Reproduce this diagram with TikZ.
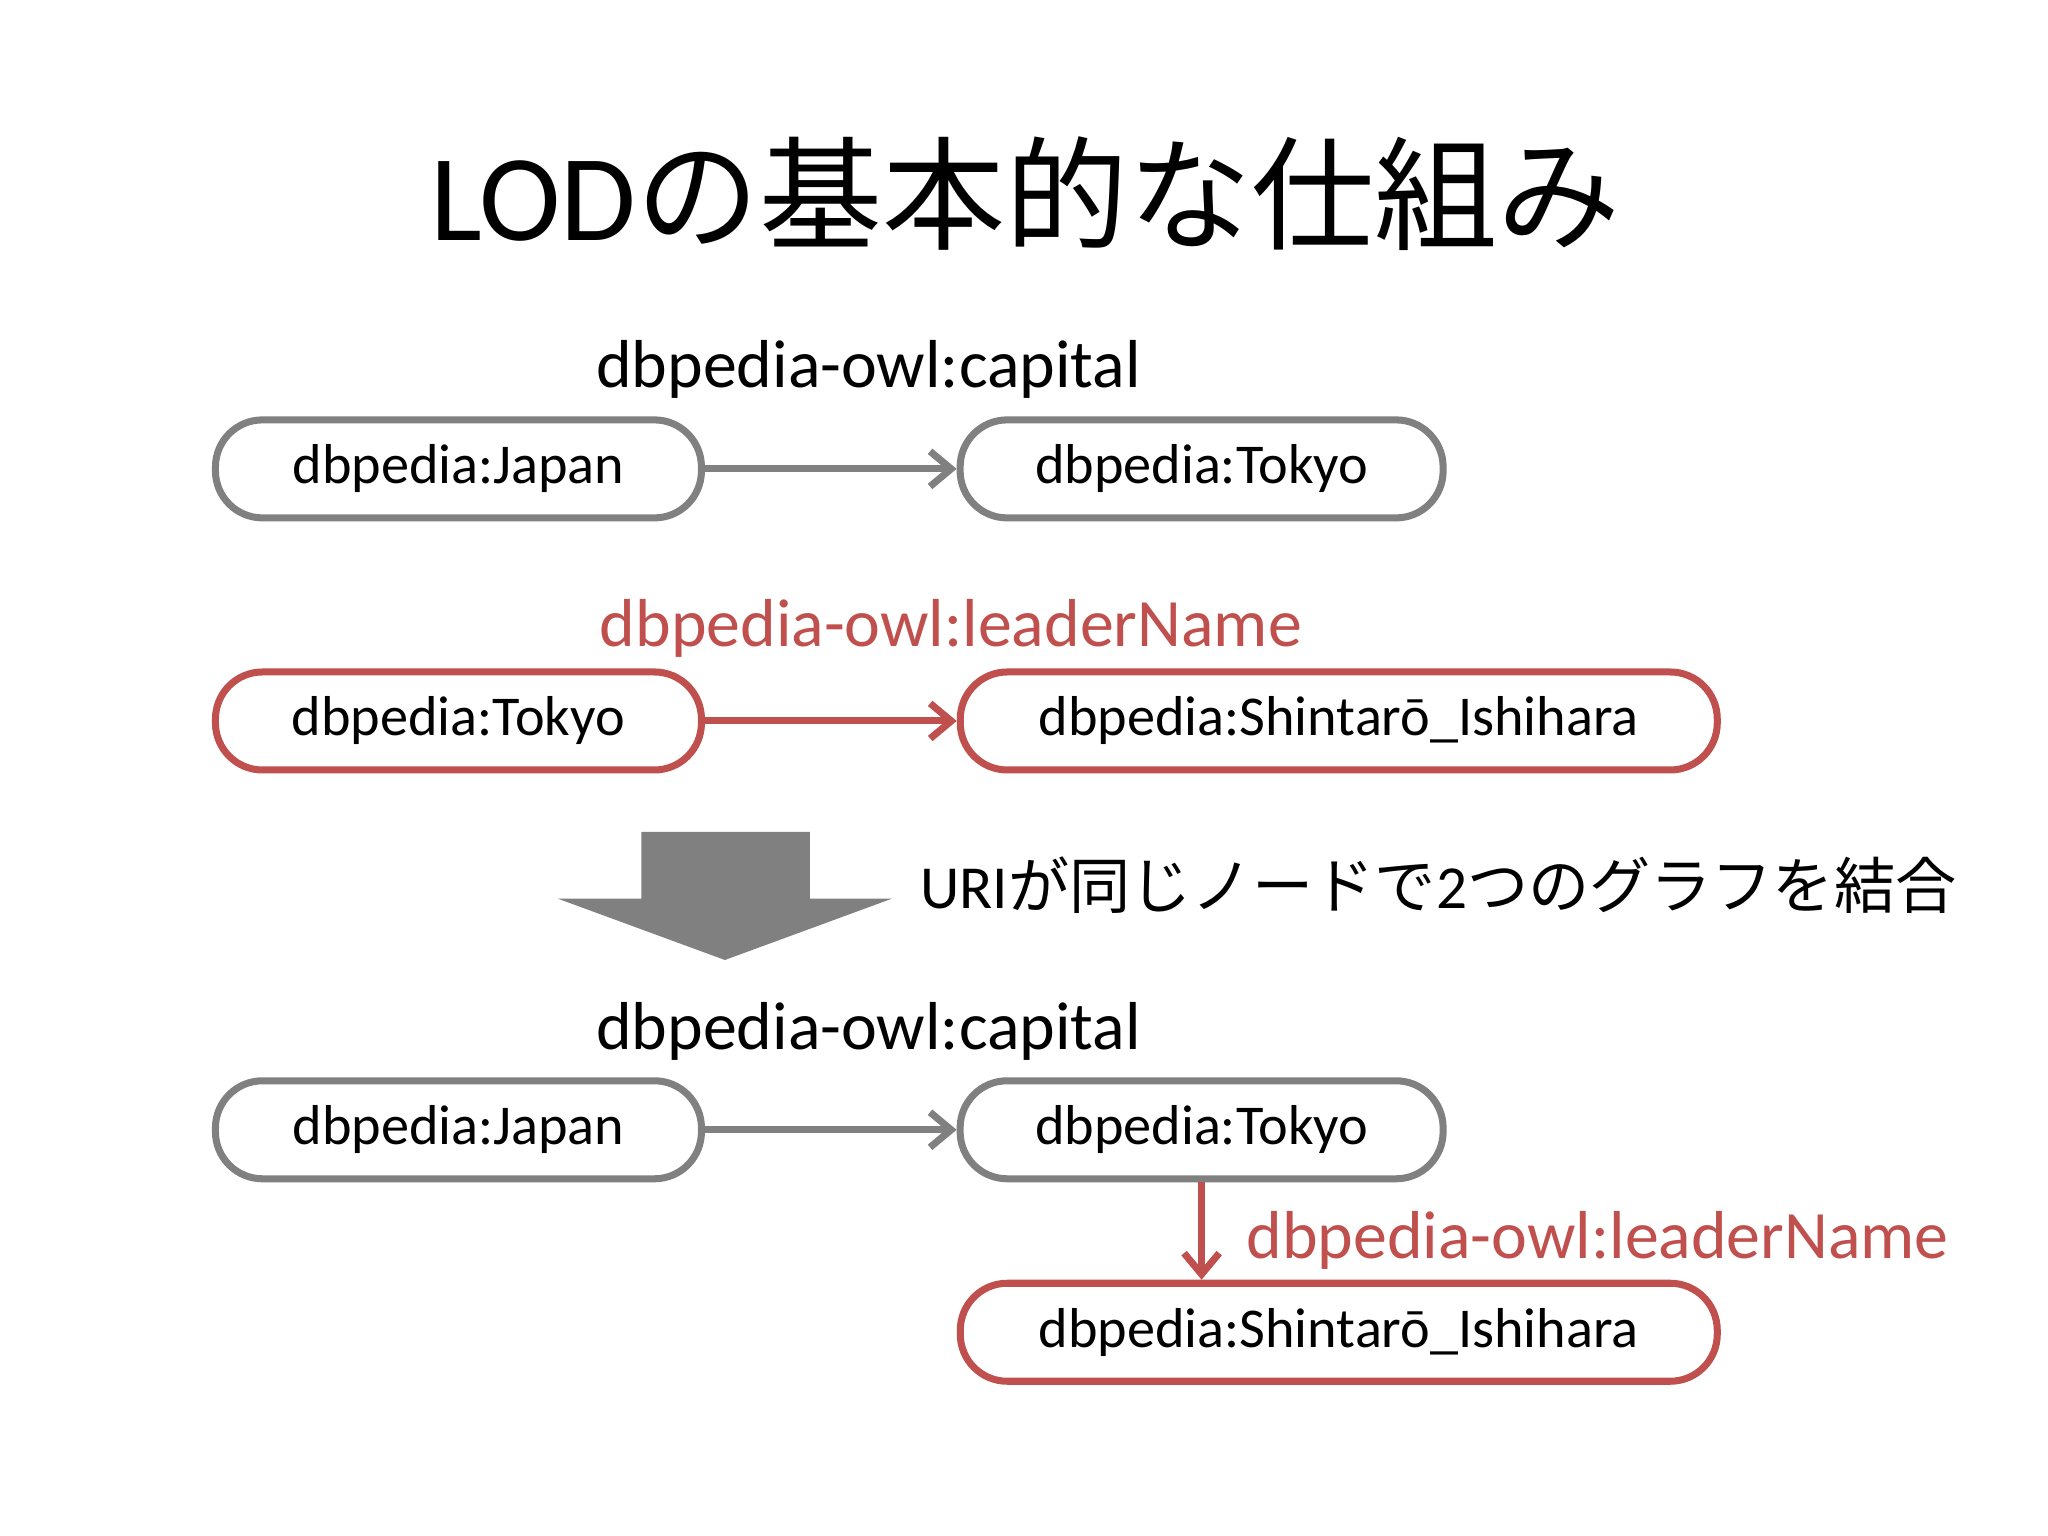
\documentclass[tikz,border=0pt]{standalone}
\usepackage{fontspec}
\setmainfont{Carlito}
\newfontfamily\cjk{Noto Sans CJK JP}
\usetikzlibrary{shapes.geometric,arrows.meta}
\definecolor{gr}{RGB}{128,128,128}
\definecolor{rd}{RGB}{192,80,77}
\tikzset{
 ov/.style={rectangle,rounded corners=0.47cm,draw=gr,line width=2pt,inner sep=0pt,minimum height=0.98cm,font=\fontsize{16}{18}\selectfont},
 ovr/.style={ov,draw=rd},
 lab/.style={font=\fontsize{19.3}{22}\selectfont},
 con/.style={line width=2pt,draw=gr,-{Straight Barb[length=6pt,width=10pt,line width=2pt]}},
 conr/.style={con,draw=rd}
}
\begin{document}
\begin{tikzpicture}[x=0.01306cm,y=-0.01306cm]
\useasboundingbox[fill=white] (0,0) rectangle (1568,1176);
\node (title) at (785,148) {\fontsize{35}{40}\selectfont LOD{\cjk の基本的な仕組み}};
% top graph
\node[lab] (l1) at (665,283) {dbpedia-owl:capital};
\node[ov,minimum width=4.86cm] (j1) at (351,359) {dbpedia:Japan};
\node[ov,minimum width=4.83cm] (t1) at (920,359) {dbpedia:Tokyo};
\draw[con] (j1) -- (t1);
\node[lab,text=rd] (l2) at (728,481) {dbpedia-owl:leaderName};
\node[ovr,minimum width=4.86cm] (t2) at (351,552) {dbpedia:Tokyo};
\node[ovr,minimum width=7.57cm] (s2) at (1025,552) {dbpedia:Shintarō\_Ishihara};
\draw[conr] (t2) -- (s2);
% big arrow
\fill[gr] (491,637) -- (620,637) -- (620,688) -- (683,688) -- (555,735) -- (427,688) -- (491,688) -- cycle;
\node[anchor=west,font=\fontsize{17.4}{20}\selectfont] (uri) at (695,678) {URI{\cjk が同じノードで}2{\cjk つのグラフを結合}};
% bottom graph
\node[lab] (l3) at (665,790) {dbpedia-owl:capital};
\node[ov,minimum width=4.86cm] (j3) at (351,865) {dbpedia:Japan};
\node[ov,minimum width=4.83cm] (t3) at (920,865) {dbpedia:Tokyo};
\draw[con] (j3) -- (t3);
\node[ovr,minimum width=7.57cm] (s3) at (1025,1020) {dbpedia:Shintarō\_Ishihara};
\draw[conr] (t3.south) -- (t3.south |- s3.north);
\node[lab,text=rd,anchor=west] (l4) at (945,950) {dbpedia-owl:leaderName};
\end{tikzpicture}
\end{document}
